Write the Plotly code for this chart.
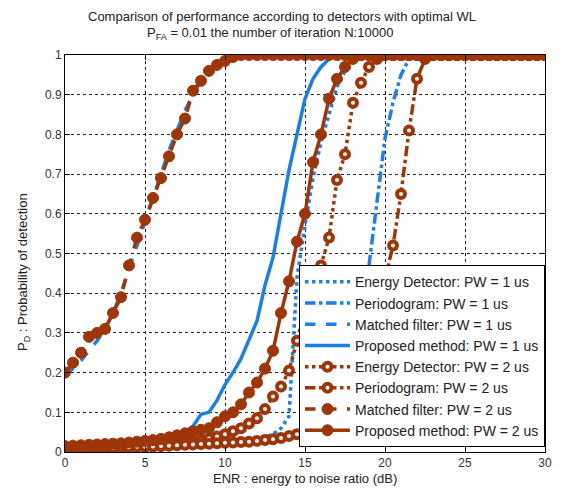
import plotly.graph_objects as go

ENR = [0, 0.5, 1, 1.5, 2, 2.5, 3, 3.5, 4, 4.5, 5, 5.5, 6, 6.5, 7, 7.5, 8, 8.5, 9, 9.5,
       10, 10.5, 11, 11.5, 12, 12.5, 13, 13.5, 14, 14.5, 15, 15.5, 16, 16.5, 17, 17.5,
       18, 18.5, 19, 19.5, 20, 20.5, 21, 21.5, 22, 22.5, 23, 23.5, 24, 24.5, 25, 25.5,
       26, 26.5, 27, 27.5, 28, 28.5, 29, 29.5, 30]

energy_pw1 = [0.01, 0.01, 0.011, 0.011, 0.012, 0.012, 0.013, 0.013, 0.014, 0.014,
              0.015, 0.016, 0.017, 0.018, 0.019, 0.02, 0.021, 0.022, 0.023, 0.024,
              0.025, 0.027, 0.029, 0.031, 0.034, 0.038, 0.045, 0.06, 0.09, 0.44,
              0.57, 0.69, 0.78, 0.85, 0.92, 0.96, 0.99] + [1.0] * 24
period_pw1 = [0.008, 0.008, 0.009, 0.009, 0.01, 0.01, 0.01, 0.011, 0.011, 0.012,
              0.012, 0.013, 0.013, 0.014, 0.014, 0.015, 0.016, 0.017, 0.018, 0.019,
              0.02, 0.021, 0.022, 0.023, 0.025, 0.027, 0.03, 0.033, 0.037, 0.045,
              0.06, 0.08, 0.11, 0.15, 0.2, 0.26, 0.32, 0.38, 0.47, 0.63,
              0.79, 0.88, 0.95, 0.99] + [1.0] * 17
matched_pw1 = [0.195, 0.21, 0.23, 0.255, 0.28, 0.31, 0.35, 0.4, 0.46, 0.52,
               0.58, 0.64, 0.7, 0.76, 0.81, 0.86, 0.9, 0.935, 0.96, 0.978,
               0.99, 0.997] + [1.0] * 39
proposed_pw1 = [0.012, 0.013, 0.014, 0.015, 0.016, 0.017, 0.018, 0.019, 0.02, 0.022,
                0.024, 0.027, 0.03, 0.035, 0.04, 0.05, 0.065, 0.095, 0.1, 0.13,
                0.17, 0.2, 0.235, 0.28, 0.33, 0.42, 0.49, 0.6, 0.71, 0.8,
                0.89, 0.94, 0.97, 0.99] + [1.0] * 27
energy_pw2 = [0.012, 0.012, 0.013, 0.013, 0.014, 0.014, 0.015, 0.015, 0.016, 0.017,
              0.018, 0.019, 0.02, 0.021, 0.023, 0.025, 0.027, 0.03, 0.034, 0.039,
              0.045, 0.052, 0.06, 0.072, 0.085, 0.108, 0.14, 0.165, 0.205, 0.28,
              0.36, 0.42, 0.47, 0.54, 0.685, 0.75, 0.88, 0.93, 0.97, 0.99] + [1.0] * 21
period_pw2 = [0.008, 0.009, 0.009, 0.01, 0.01, 0.011, 0.011, 0.012, 0.012, 0.013,
              0.013, 0.014, 0.015, 0.016, 0.017, 0.018, 0.019, 0.02, 0.021, 0.022,
              0.023, 0.024, 0.025, 0.026, 0.028, 0.03, 0.032, 0.035, 0.04, 0.045,
              0.05, 0.06, 0.07, 0.085, 0.1, 0.13, 0.17, 0.22, 0.28, 0.35,
              0.44, 0.52, 0.65, 0.81, 0.94, 0.99] + [1.0] * 15
matched_pw2 = [0.2, 0.225, 0.25, 0.29, 0.3, 0.31, 0.35, 0.39, 0.47, 0.54,
               0.585, 0.64, 0.69, 0.745, 0.8, 0.84, 0.91, 0.935, 0.96, 0.975,
               0.985, 0.995] + [1.0] * 39
proposed_pw2 = [0.015, 0.016, 0.017, 0.018, 0.019, 0.02, 0.021, 0.022, 0.024, 0.026,
                0.028, 0.03, 0.033, 0.037, 0.042, 0.047, 0.052, 0.056, 0.06, 0.075,
                0.09, 0.1, 0.12, 0.15, 0.175, 0.21, 0.255, 0.35, 0.43, 0.53,
                0.6, 0.73, 0.8, 0.89, 0.94, 0.97, 0.99] + [1.0] * 24

BLUE = "#1a7fe8"
BROWN = "#9e3609"
FONT = "Arial, Liberation Sans, sans-serif"
TXT = "#222222"

# figure sized to compensate the 8px default body margin of the page
W, H = 555, 485
ML, MR, MT, MB = 57, 18, 47, 41
PW, PH = W - ML - MR, H - MT - MB

fig = go.Figure()

blue_series = [
    ("Energy Detector: PW = 1 us", energy_pw1, "dot"),
    ("Periodogram: PW = 1 us", period_pw1, "dashdot"),
    ("Matched filter: PW = 1 us", matched_pw1, "dash"),
    ("Proposed method: PW = 1 us", proposed_pw1, "solid"),
]
for name, ys, dash in blue_series:
    fig.add_trace(go.Scatter(x=ENR, y=ys, name=name, mode="lines",
                             line=dict(color=BLUE, width=3.5, dash=dash)))

brown_series = [
    ("Energy Detector: PW = 2 us", energy_pw2, "dot", True),
    ("Periodogram: PW = 2 us", period_pw2, "dashdot", True),
    ("Matched filter: PW = 2 us", matched_pw2, "dash", False),
    ("Proposed method: PW = 2 us", proposed_pw2, "solid", False),
]
for name, ys, dash, hollow in brown_series:
    if hollow:
        mk = dict(symbol="circle", size=8, color="white", line=dict(color=BROWN, width=4))
    else:
        mk = dict(symbol="circle", size=11, color=BROWN, line=dict(color=BROWN, width=1))
    fig.add_trace(go.Scatter(x=ENR, y=ys, name=name, mode="lines+markers",
                             line=dict(color=BROWN, width=3.5, dash=dash), marker=mk))

axis_common = dict(showline=True, linecolor="black", linewidth=1, mirror="ticks",
                   ticks="inside", ticklen=5, tickcolor="black", automargin=False,
                   showgrid=True, gridcolor="#222222", griddash="dot", gridwidth=1,
                   zeroline=False, tickfont=dict(family=FONT, size=12, color="#333333"))

def px_x(fx):
    return (fx - ML) / PW

def px_y(fy):
    return 1 - (fy - MT) / PH

annotations = [
    dict(text="Comparison of performance according to detectors with optimal WL",
         x=px_x(274), y=px_y(8), xref="paper", yref="paper", showarrow=False,
         xanchor="center", yanchor="middle", font=dict(family=FONT, size=13, color=TXT)),
    dict(text="P<sub>FA</sub> = 0.01 the number of iteration N:10000",
         x=px_x(262), y=px_y(25), xref="paper", yref="paper", showarrow=False,
         xanchor="center", yanchor="middle", font=dict(family=FONT, size=13, color=TXT)),
    dict(text="ENR : energy to noise ratio (dB)",
         x=px_x(297), y=px_y(470), xref="paper", yref="paper", showarrow=False,
         xanchor="center", yanchor="middle", font=dict(family=FONT, size=13, color=TXT)),
    dict(text="P<sub>D</sub> : Probability of detection", textangle=-90,
         x=px_x(15), y=px_y(264), xref="paper", yref="paper", showarrow=False,
         xanchor="center", yanchor="middle", font=dict(family=FONT, size=13, color=TXT)),
]

fig.update_layout(
    width=W, height=H,
    margin=dict(l=ML, r=MR, t=MT, b=MB),
    paper_bgcolor="white", plot_bgcolor="white",
    font=dict(family=FONT, size=12, color=TXT),
    annotations=annotations,
    xaxis=dict(range=[0, 30], tickvals=[0, 5, 10, 15, 20, 25, 30], **axis_common),
    yaxis=dict(range=[0, 1], tickvals=[0, 0.1, 0.2, 0.3, 0.4, 0.5, 0.6, 0.7, 0.8, 0.9, 1],
               ticktext=["0", "0.1", "0.2", "0.3", "0.4", "0.5", "0.6", "0.7", "0.8", "0.9", "1"],
               **axis_common),
    legend=dict(x=1, xanchor="right", y=0.012, yanchor="bottom",
                bgcolor="white", bordercolor="black", borderwidth=1,
                font=dict(family=FONT, size=14, color=TXT),
                tracegroupgap=0, itemwidth=45),
    showlegend=True,
)

fig.write_html("out.html")
